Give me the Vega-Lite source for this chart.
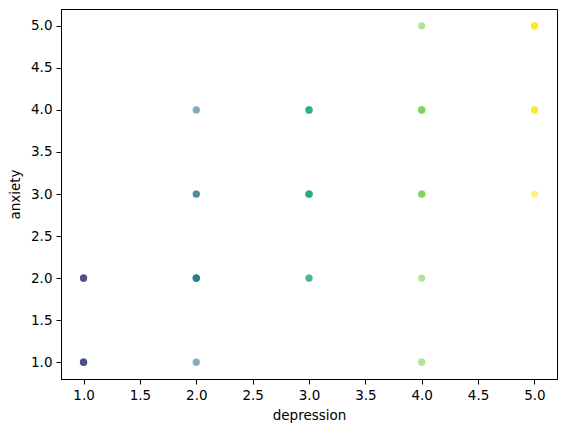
{
  "$schema": "https://vega.github.io/schema/vega-lite/v6.json",
  "width": 496,
  "height": 370,
  "autosize": "none",
  "padding": {"left": 61, "top": 9, "right": 10, "bottom": 53},
  "background": "white",
  "config": {
    "view": {"stroke": "black", "strokeWidth": 1},
    "font": "DejaVu Sans",
    "axis": {
      "grid": false,
      "domainColor": "black",
      "tickColor": "black",
      "tickSize": 5,
      "labelFontSize": 13.5,
      "labelColor": "black",
      "titleFontSize": 13.5,
      "titleFontWeight": "normal",
      "titleColor": "black",
      "labelPadding": 4
    }
  },
  "data": {
    "values": [
      {"depression": 1, "anxiety": 1}, {"depression": 1, "anxiety": 1}, {"depression": 1, "anxiety": 1},
      {"depression": 1, "anxiety": 2}, {"depression": 1, "anxiety": 2}, {"depression": 1, "anxiety": 2},
      {"depression": 2, "anxiety": 1},
      {"depression": 2, "anxiety": 2}, {"depression": 2, "anxiety": 2}, {"depression": 2, "anxiety": 2}, {"depression": 2, "anxiety": 2},
      {"depression": 2, "anxiety": 3}, {"depression": 2, "anxiety": 3},
      {"depression": 2, "anxiety": 4},
      {"depression": 3, "anxiety": 2}, {"depression": 3, "anxiety": 2},
      {"depression": 3, "anxiety": 3}, {"depression": 3, "anxiety": 3}, {"depression": 3, "anxiety": 3}, {"depression": 3, "anxiety": 3},
      {"depression": 3, "anxiety": 4}, {"depression": 3, "anxiety": 4}, {"depression": 3, "anxiety": 4},
      {"depression": 4, "anxiety": 1},
      {"depression": 4, "anxiety": 2},
      {"depression": 4, "anxiety": 3}, {"depression": 4, "anxiety": 3}, {"depression": 4, "anxiety": 3},
      {"depression": 4, "anxiety": 4}, {"depression": 4, "anxiety": 4}, {"depression": 4, "anxiety": 4},
      {"depression": 4, "anxiety": 5},
      {"depression": 5, "anxiety": 3},
      {"depression": 5, "anxiety": 4}, {"depression": 5, "anxiety": 4}, {"depression": 5, "anxiety": 4},
      {"depression": 5, "anxiety": 5}, {"depression": 5, "anxiety": 5}, {"depression": 5, "anxiety": 5}, {"depression": 5, "anxiety": 5}
    ]
  },
  "mark": {"type": "circle", "size": 52, "opacity": 0.6},
  "encoding": {
    "x": {
      "field": "depression",
      "type": "quantitative",
      "scale": {"domain": [0.8, 5.2], "nice": false, "zero": false},
      "axis": {"values": [1, 1.5, 2, 2.5, 3, 3.5, 4, 4.5, 5], "format": ".1f", "title": "depression", "titlePadding": 7}
    },
    "y": {
      "field": "anxiety",
      "type": "quantitative",
      "scale": {"domain": [0.8, 5.2], "nice": false, "zero": false},
      "axis": {"values": [1, 1.5, 2, 2.5, 3, 3.5, 4, 4.5, 5], "format": ".1f", "title": "anxiety", "titlePadding": 8}
    },
    "color": {
      "field": "depression",
      "type": "quantitative",
      "scale": {"scheme": "viridis", "domain": [0, 5]},
      "legend": null
    }
  }
}
